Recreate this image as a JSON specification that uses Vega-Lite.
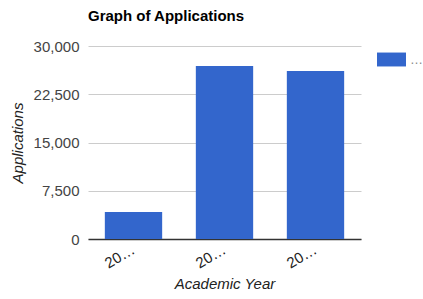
{
  "$schema": "https://vega.github.io/schema/vega-lite/v6.json",
  "width": 273,
  "height": 193,
  "autosize": {"type": "none"},
  "padding": {"left": 88, "top": 46, "right": 62, "bottom": 60},
  "background": "white",
  "config": {
    "view": {"stroke": null},
    "font": "Liberation Sans"
  },
  "title": {
    "text": "Graph of Applications",
    "anchor": "start",
    "frame": "group",
    "font": "Liberation Sans",
    "fontSize": 15,
    "fontWeight": "bold",
    "color": "#000000",
    "offset": 15
  },
  "data": {
    "values": [
      {"year": "2019-20", "applications": 4200, "series": "Applications"},
      {"year": "2020-21", "applications": 26900, "series": "Applications"},
      {"year": "2021-22", "applications": 26100, "series": "Applications"}
    ]
  },
  "mark": {"type": "bar", "color": "#3366cc"},
  "encoding": {
    "x": {
      "field": "year",
      "type": "nominal",
      "scale": {"paddingInner": 0.37, "paddingOuter": 0.185},
      "axis": {
        "title": "Academic Year",
        "titleFont": "Liberation Sans",
        "titleFontSize": 15,
        "titleFontStyle": "italic",
        "titleFontWeight": "normal",
        "titleColor": "#222222",
        "titlePadding": 6,
        "labelAngle": -30,
        "labelAlign": "right",
        "labelBaseline": "middle",
        "labelFontSize": 15,
        "labelColor": "#222222",
        "labelLimit": 38,
        "labelPadding": 9,
        "ticks": false,
        "domainColor": "#333333",
        "domainWidth": 1.5
      }
    },
    "y": {
      "field": "applications",
      "type": "quantitative",
      "scale": {"domain": [0, 30000], "nice": false},
      "axis": {
        "title": "Applications",
        "titleFont": "Liberation Sans",
        "titleFontSize": 15,
        "titleFontStyle": "italic",
        "titleFontWeight": "normal",
        "titleColor": "#222222",
        "titlePadding": 8,
        "values": [0, 7500, 15000, 22500, 30000],
        "format": ",d",
        "labelFontSize": 15,
        "labelColor": "#444444",
        "labelPadding": 9,
        "ticks": false,
        "domain": false,
        "grid": true,
        "gridColor": "#cccccc"
      }
    },
    "color": {
      "field": "series",
      "type": "nominal",
      "scale": {"range": ["#3366cc"]},
      "legend": {
        "title": null,
        "orient": "none",
        "legendX": 289,
        "legendY": -1,
        "symbolType": "M-1,-0.48L1,-0.48L1,0.48L-1,0.48Z",
        "symbolSize": 841,
        "symbolStrokeWidth": 0,
        "labelLimit": 8,
        "labelFontSize": 13,
        "labelColor": "#888888",
        "labelOffset": 4
      }
    }
  }
}
